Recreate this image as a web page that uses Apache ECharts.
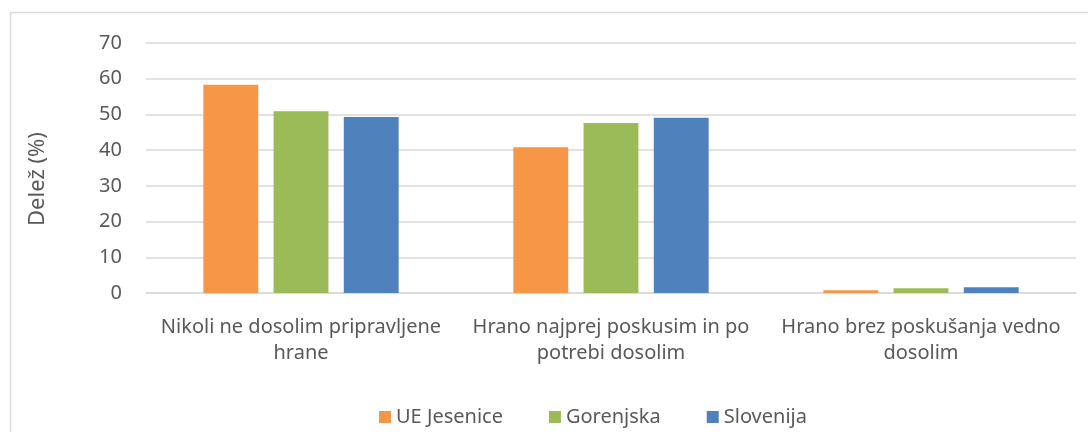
<!DOCTYPE html>
<html>
<head>
<meta charset="utf-8">
<script src="https://cdn.jsdelivr.net/npm/echarts@6/dist/echarts.min.js"></script>
<style>
  html, body { margin: 0; padding: 0; background: #fff; }
  #main { width: 1088px; height: 432px; }
</style>
</head>
<body>
<div id="main"></div>
<script>
// podatki
const categories = [
  'Nikoli ne dosolim pripravljene\nhrane',
  'Hrano najprej poskusim in po\npotrebi dosolim',
  'Hrano brez poskušanja vedno\ndosolim'
]
const seriesNames = ['UE Jesenice', 'Gorenjska', 'Slovenija']
const ueJesenice = [58.3, 40.8, 0.8]
const gorenjska = [50.9, 47.6, 1.3]
const slovenija = [49.3, 49.1, 1.6]
const colors = ['#F79646', '#9BBB59', '#4F81BD']

const font = 'Noto Sans'
const textColor = '#595959'

const myChart = echarts.init(document.getElementById('main'))
const option = {
  animation: false,
  color: colors,
  textStyle: { fontFamily: font },
  graphic: [
    {
      type: 'rect',
      left: 8,
      top: 10,
      shape: { width: 1100, height: 450 },
      style: { fill: 'none', stroke: '#D9D9D9', lineWidth: 1.5 },
      silent: true
    }
  ],
  grid: {
    left: 146,
    right: 12,
    top: 43,
    bottom: 139
  },
  legend: {
    left: 374,
    top: 402,
    itemWidth: 12,
    itemHeight: 12,
    itemGap: 46,
    icon: 'rect',
    textStyle: { color: textColor, fontSize: 20, fontFamily: font }
  },
  xAxis: {
    type: 'category',
    data: categories,
    axisTick: { show: false },
    axisLine: { lineStyle: { color: '#D9D9D9', width: 1.5 } },
    axisLabel: {
      interval: 0,
      color: textColor,
      fontSize: 20,
      fontFamily: font,
      lineHeight: 26,
      margin: 21
    }
  },
  yAxis: {
    type: 'value',
    min: 0,
    max: 70,
    interval: 10,
    name: 'Delež (%)',
    nameLocation: 'middle',
    nameGap: 97,
    nameRotate: 90,
    nameTextStyle: { color: textColor, fontSize: 22, fontFamily: font, padding: [0, 22, 0, 0] },
    axisLine: { show: false },
    axisTick: { show: false },
    axisLabel: { color: textColor, fontSize: 20, fontFamily: font, margin: 24 },
    splitLine: { lineStyle: { color: '#D9D9D9', width: 1.5 } }
  },
  series: [
    { name: seriesNames[0], type: 'bar', data: ueJesenice, barGap: '28%', barCategoryGap: '37%' },
    { name: seriesNames[1], type: 'bar', data: gorenjska, barGap: '28%', barCategoryGap: '37%' },
    { name: seriesNames[2], type: 'bar', data: slovenija, barGap: '28%', barCategoryGap: '37%' }
  ]
}
myChart.setOption(option)
</script>
</body>
</html>
